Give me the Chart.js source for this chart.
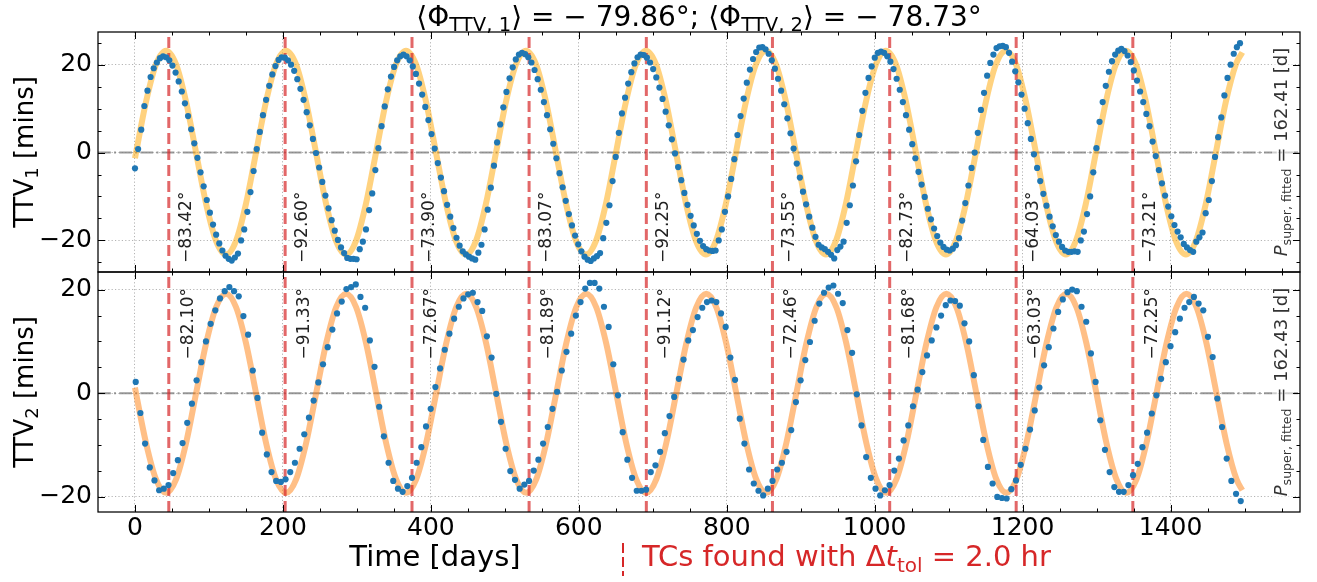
<!DOCTYPE html>
<html>
<head>
<meta charset="utf-8">
<style>
html,body{margin:0;padding:0;background:#fff;}
#wrap{position:relative;width:1317px;height:582px;overflow:hidden;background:#fff;}
#wrap canvas{position:absolute;left:0;top:0;}
</style>
<script src="https://cdn.jsdelivr.net/npm/chart.js@4.4.1/dist/chart.umd.min.js"></script>
</head>
<body>
<div id="wrap">
<canvas id="c1" width="1317" height="582"></canvas>
<canvas id="c2" width="1317" height="582"></canvas>
</div>
<script>
// ---------------- data ----------------
const X_MIN = -50, X_MAX = 1575;
const Y1_MIN = -27.2, Y1_MAX = 27.45;
const Y2_MIN = -22.9, Y2_MAX = 23.4;
const xTickValues = [0, 200, 400, 600, 800, 1000, 1200, 1400];
const yTickValues = [-20, 0, 20];

// planet 1: one transit every ~4.22 d, starting at t = 0
const transitStart1 = 0.0;
const transitSpacing1 = 4.22;
const ttv1 = [
 -3.6, 0.8, 5.2, 10.6, 14.1, 17.2, 19.2, 20.5, 21.5, 21.9,
 21.7, 21.0, 19.8, 18.2, 16.2, 13.9, 11.2, 8.3, 5.3, 2.1,
 -1.2, -4.5, -7.7, -10.8, -13.7, -16.4, -18.7, -20.7, -22.3, -23.5,
 -24.2, -24.6, -23.9, -23.0, -20.0, -17.5, -13.5, -9.0, -4.2, 0.8,
 4.7, 8.5, 12.0, 15.2, 17.8, 19.7, 21.1, 21.7, 21.6, 21.0,
 20.0, 18.6, 16.7, 14.5, 12.0, 9.2, 6.2, 3.1, -0.1, -3.4,
 -6.7, -9.8, -12.7, -15.4, -17.8, -19.9, -21.6, -22.9, -24.0, -24.2,
 -24.2, -24.3, -22.0, -20.3, -17.5, -13.1, -9.3, -4.0, 1.0, 6.0,
 10.5, 14.4, 17.3, 19.5, 21.0, 21.9, 22.3, 21.9, 21.0, 19.6,
 17.9, 15.7, 13.2, 10.4, 7.4, 4.2, 0.9, -2.4, -5.7, -8.8,
 -11.9, -14.6, -17.2, -19.4, -21.2, -22.5, -23.2, -23.7, -24.1, -24.4,
 -22.8, -21.0, -17.5, -13.0, -8.0, -3.0, 2.3, 6.4, 10.3, 13.8,
 16.9, 19.4, 21.2, 22.3, 22.7, 22.4, 21.7, 20.5, 18.8, 16.7,
 14.3, 11.5, 8.5, 5.3, 2.0, -1.3, -4.7, -7.9, -11.0, -14.0,
 -16.6, -18.9, -20.9, -22.5, -23.7, -24.4, -24.7, -24.1, -23.6, -22.9,
 -19.5, -16.0, -12.0, -6.5, -1.0, 4.5, 8.9, 12.5, 15.7, 18.3,
 20.3, 21.7, 22.3, 22.2, 21.6, 20.5, 19.0, 17.1, 14.8, 12.2,
 9.3, 6.2, 3.0, -0.2, -3.3, -6.3, -9.2, -11.9, -14.4, -16.6,
 -18.5, -20.1, -21.3, -22.0, -22.3, -22.4, -22.3, -20.0, -17.5, -13.5,
 -10.0, -6.0, -1.5, 4.0, 8.3, 12.3, 15.9, 18.9, 21.3, 22.9,
 23.9, 24.0, 23.5, 22.5, 21.0, 19.1, 16.8, 14.1, 11.0, 7.8,
 4.4, 0.9, -2.5, -5.7, -8.9, -11.8, -14.6, -17.1, -19.2, -21.0,
 -21.6, -22.0, -22.6, -23.3, -24.1, -22.2, -21.4, -20.3, -16.0, -12.0,
 -7.5, -2.0, 4.0, 9.5, 13.6, 17.0, 19.6, 21.6, 22.7, 23.0,
 22.7, 21.9, 20.7, 19.0, 16.8, 14.3, 11.5, 8.5, 5.2, 1.9,
 -1.3, -4.4, -7.3, -10.1, -12.8, -15.2, -17.3, -19.0, -20.5, -21.5,
 -22.1, -22.3, -21.9, -21.1, -19.5, -15.5, -11.5, -7.5, -3.5, 0.0,
 4.5, 9.7, 13.6, 17.5, 20.4, 22.3, 23.8, 24.2, 24.3, 24.0,
 22.7, 20.7, 18.5, 16.0, 13.2, 10.0, 6.7, 3.1, -0.4, -3.5,
 -6.5, -9.4, -12.1, -14.6, -16.8, -18.8, -20.3, -21.5, -22.3, -22.6,
 -22.6, -22.5, -22.6, -20.0, -18.0, -14.0, -10.0, -4.5, 1.0, 7.0,
 11.5, 15.2, 18.4, 20.8, 22.3, 23.2, 23.6, 23.1, 22.1, 20.6,
 18.7, 16.4, 13.9, 11.5, 8.8, 6.0, 2.5, -0.8, -4.0, -7.0,
 -9.8, -12.3, -14.5, -16.5, -18.0, -19.3, -20.8, -21.6, -22.2, -22.6,
 -20.3, -19.3, -18.2, -13.8, -10.8, -6.5, -1.0, 3.5, 8.0, 13.0,
 17.0, 20.0, 22.5, 24.0, 24.9
];

// planet 2: one transit every ~6.33 d, starting at t = 1
const transitStart2 = 1.0;
const transitSpacing2 = 6.33;
const ttv2 = [
 2.2, -3.8, -9.7, -14.3, -16.8, -18.7, -18.4, -17.7, -15.4, -12.9,
 -9.6, -5.7, -2.0, 2.5, 6.0, 10.0, 13.4, 16.0, 18.3, 19.7,
 20.5, 19.7, 18.7, 14.9, 11.3, 4.4, -0.9, -7.6, -11.8, -15.2,
 -16.9, -17.1, -16.6, -15.2, -13.4, -10.7, -7.9, -4.7, -1.4, 2.1,
 5.6, 8.9, 12.3, 15.4, 17.7, 20.1, 20.5, 21.0, 18.6, 16.5,
 10.2, 5.1, -2.6, -8.3, -13.4, -16.9, -18.4, -19.0, -17.9, -16.3,
 -13.4, -10.4, -6.4, -3.0, 1.2, 4.8, 8.4, 11.5, 14.4, 16.7,
 18.3, 19.1, 19.4, 17.6, 15.9, 11.0, 6.9, -0.1, -5.5, -10.7,
 -15.0, -16.7, -18.4, -17.6, -16.9, -14.9, -12.8, -9.7, -6.5, -3.0,
 0.3, 4.4, 8.0, 11.5, 15.0, 17.6, 20.2, 21.3, 21.3, 20.2,
 16.7, 12.8, 5.6, -0.4, -7.5, -12.8, -16.3, -18.8, -18.8, -18.6,
 -15.2, -13.9, -11.3, -7.7, -4.4, -0.7, 2.8, 6.5, 10.2, 12.2,
 14.7, 16.5, 17.6, 17.9, 17.6, 15.4, 12.8, 6.9, 2.6, -4.9,
 -9.7, -14.7, -17.4, -18.8, -19.7, -18.4, -16.9, -14.7, -13.4, -11.3,
 -7.1, -1.7, 2.5, 6.4, 9.9, 14.0, 17.3, 19.4, 20.4, 20.8,
 19.2, 17.4, 12.2, 7.8, -0.2, -6.2, -12.3, -16.3, -18.4, -19.7,
 -18.7, -17.7, -14.9, -12.6, -9.1, -6.2, -2.5, 0.7, 4.1, 7.3,
 10.2, 12.7, 15.0, 17.0, 17.9, 17.8, 16.9, 13.5, 10.0, 3.5,
 -2.5, -9.0, -14.2, -17.4, -20.0, -20.2, -20.3, -18.5, -16.8, -13.8,
 -10.7, -7.0, -3.3, 1.1, 5.4, 8.9, 12.5, 15.7, 18.1, 19.5,
 20.0, 19.7, 16.7, 13.8, 7.7, 2.2, -5.2, -10.9, -15.2, -18.1,
 -19.0, -19.0, -17.7, -15.8, -13.6, -10.4, -7.6, -3.9, -0.4, 2.8,
 6.0, 9.1, 11.8, 14.4, 16.5, 17.6, 18.6, 17.3, 16.0, 10.9,
 7.0, -1.0, -6.5, -12.6, -16.9, -19.4, -20.8
];

// fitted curves, sampled (first value at t=0, last at t=1497, the rest every fitStep days from fitStart)
const fitEnds = [0, 1497];
const fitStart1 = 1.45, fitStep1 = 13.517;
const fit1 = [
 -1.3, 0, 11.6, 20.1,
 23.2, 20.1, 11.6, 0, -11.6, -20.1, -23.2, -20.1, -11.6, 0, 11.6, 20.1,
 23.2, 20.1, 11.6, 0, -11.6, -20.1, -23.2, -20.1, -11.6, 0, 11.6, 20.1,
 23.2, 20.1, 11.6, 0, -11.6, -20.1, -23.2, -20.1, -11.6, 0, 11.6, 20.1,
 23.2, 20.1, 11.6, 0, -11.6, -20.1, -23.2, -20.1, -11.6, 0, 11.6, 20.1,
 23.2, 20.1, 11.6, 0, -11.6, -20.1, -23.2, -20.1, -11.6, 0, 11.6, 20.1,
 23.2, 20.1, 11.6, 0, -11.6, -20.1, -23.2, -20.1, -11.6, 0, 11.6, 20.1,
 23.2, 20.1, 11.6, 0, -11.6, -20.1, -23.2, -20.1, -11.6, 0, 11.6, 20.1,
 23.2, 20.1, 11.6, 0, -11.6, -20.1, -23.2, -20.1, -11.6, 0, 11.6, 20.1,
 23.2, 20.1, 11.6, 0, -11.6, -20.1, -23.2, -20.1, -11.6, 0, 11.6, 20.1,
 22.8
];
const fitStart2 = 1.425, fitStep2 = 13.525;
const fit2 = [
 1.1, 0, -9.6, -16.6,
 -19.2, -16.6, -9.6, 0, 9.6, 16.6, 19.2, 16.6, 9.6, 0, -9.6, -16.6,
 -19.2, -16.6, -9.6, 0, 9.6, 16.6, 19.2, 16.6, 9.6, 0, -9.6, -16.6,
 -19.2, -16.6, -9.6, 0, 9.6, 16.6, 19.2, 16.6, 9.6, 0, -9.6, -16.6,
 -19.2, -16.6, -9.6, 0, 9.6, 16.6, 19.2, 16.6, 9.6, 0, -9.6, -16.6,
 -19.2, -16.6, -9.6, 0, 9.6, 16.6, 19.2, 16.6, 9.6, 0, -9.6, -16.6,
 -19.2, -16.6, -9.6, 0, 9.6, 16.6, 19.2, 16.6, 9.6, 0, -9.6, -16.6,
 -19.2, -16.6, -9.6, 0, 9.6, 16.6, 19.2, 16.6, 9.6, 0, -9.6, -16.6,
 -19.2, -16.6, -9.6, 0, 9.6, 16.6, 19.2, 16.6, 9.6, 0, -9.6, -16.6,
 -19.2, -16.6, -9.6, 0, 9.6, 16.6, 19.2, 16.6, 9.6, 0, -9.6, -16.6,
 -18.7
];

// transit-coincidence times and their phase labels
const tcTimes = [45.7, 203.0, 374.5, 532.8, 691.3, 861.8, 1020.3, 1191.3, 1349.0];
const phaseLabels1 = ['−83.42°','−92.60°','−73.90°','−83.07°','−92.25°','−73.55°','−82.73°','−64.03°','−73.21°'];
const phaseLabels2 = ['−82.10°','−91.33°','−72.67°','−81.89°','−91.12°','−72.46°','−81.68°','−63.03°','−72.25°'];
const meanPhase1 = '−79.86°', meanPhase2 = '−78.73°';
const pSuper1 = '162.41', pSuper2 = '162.43';
const dtTol = '2.0';

const X_MAJOR = 200, X_MINOR = 50, Y_MAJOR = 20, Y_MINOR = 5;

// ---------------- helpers ----------------
const FONT = '"DejaVu Sans", "Liberation Sans", sans-serif';
Chart.defaults.font.family = FONT;

function toPoints(vals, start, step) {
  return vals.map((v, i) => ({ x: start + i * step, y: v }));
}
function fitPoints(vals, start, step) {
  const n = vals.length;
  return vals.map((v, i) => ({
    x: i === 0 ? fitEnds[0] : (i === n - 1 ? fitEnds[1] : start + (i - 1) * step),
    y: v
  }));
}
function fmt(v) {
  return v < 0 ? '−' + Math.abs(v) : String(v);
}
function rich(ctx, parts, x, y, align) {
  let w = 0;
  for (const p of parts) {
    ctx.font = (p.it ? 'italic ' : '') + p.s + 'px ' + FONT;
    p.w = ctx.measureText(p.t).width;
    w += p.w;
  }
  let cx = align === 'center' ? x - w / 2 : (align === 'right' ? x - w : x);
  ctx.textAlign = 'left';
  ctx.textBaseline = 'alphabetic';
  for (const p of parts) {
    ctx.font = (p.it ? 'italic ' : '') + p.s + 'px ' + FONT;
    ctx.fillText(p.t, cx, y + (p.dy || 0));
    cx += p.w;
  }
  return w;
}
function seg(ctx, x1, y1, x2, y2) {
  ctx.beginPath(); ctx.moveTo(x1, y1); ctx.lineTo(x2, y2); ctx.stroke();
}
function frameAndTicks(chart) {
  const { ctx, chartArea: a, scales: { x, y } } = chart;
  ctx.save();
  ctx.strokeStyle = '#000';
  ctx.lineWidth = 1;
  for (let v = Math.ceil(x.min / X_MINOR) * X_MINOR; v <= x.max; v += X_MINOR) {
    const px = Math.round(x.getPixelForValue(v)) + 0.5;
    if (px <= a.left + 1 || px >= a.right - 1) continue;
    const L = (v % X_MAJOR === 0) ? 7 : 3.5;
    seg(ctx, px, a.bottom, px, a.bottom - L);
    seg(ctx, px, a.top, px, a.top + L);
  }
  for (let v = Math.ceil(y.min / Y_MINOR) * Y_MINOR; v <= y.max; v += Y_MINOR) {
    const py = Math.round(y.getPixelForValue(v)) + 0.5;
    if (py <= a.top + 1 || py >= a.bottom - 1) continue;
    const L = (v % Y_MAJOR === 0) ? 7 : 3.5;
    seg(ctx, a.left, py, a.left + L, py);
    seg(ctx, a.right, py, a.right - L, py);
  }
  ctx.lineWidth = 1.25;
  ctx.strokeRect(a.left, a.top, a.right - a.left, a.bottom - a.top);
  ctx.restore();
}
function pSuperText(chart, value) {
  const { ctx, chartArea: a } = chart;
  const mid = (a.top + a.bottom) / 2;
  const parts = [
    { t: 'P', s: 18, it: true },
    { t: 'super, fitted', s: 12.6, dy: 4 },
    { t: ' = ' + value + ' [d]', s: 18 }
  ];
  ctx.save();
  ctx.translate(a.right - 13, mid);
  ctx.rotate(-Math.PI / 2);
  let w = 0;
  for (const p of parts) { ctx.font = (p.it ? 'italic ' : '') + p.s + 'px ' + FONT; w += ctx.measureText(p.t).width; }
  ctx.fillStyle = 'rgba(255,255,255,0.55)';
  ctx.fillRect(-w / 2 - 3, -15, w + 6, 22);
  ctx.fillStyle = '#333';
  rich(ctx, parts, 0, 0, 'center');
  ctx.restore();
}
function yLabel(chart, sub) {
  const { ctx, chartArea: a } = chart;
  ctx.save();
  ctx.fillStyle = '#000';
  ctx.translate(33, (a.top + a.bottom) / 2);
  ctx.rotate(-Math.PI / 2);
  rich(ctx, [{ t: 'TTV', s: 26 }, { t: sub, s: 18, dy: 5 }, { t: ' [mins]', s: 26 }], 0, 0, 'center');
  ctx.restore();
}
function phaseText(chart, labels, top) {
  const { ctx, chartArea: a, scales: { x } } = chart;
  ctx.save();
  ctx.fillStyle = '#222';
  ctx.font = '17px ' + FONT;
  ctx.textBaseline = 'alphabetic';
  tcTimes.forEach((t, i) => {
    const px = x.getPixelForValue(t);
    ctx.save();
    if (top) {
      ctx.translate(px + 22, a.bottom - 9);
      ctx.rotate(-Math.PI / 2);
      ctx.textAlign = 'left';
    } else {
      ctx.translate(px + 24, a.top + 16);
      ctx.rotate(-Math.PI / 2);
      ctx.textAlign = 'right';
    }
    ctx.fillText(labels[i], 0, 0);
    ctx.restore();
  });
  ctx.restore();
}

function panelDatasets(pts, fitPts, fitColor, ymin, ymax) {
  const ds = [];
  ds.push({
    type: 'scatter', data: pts, showLine: false,
    pointRadius: 3.1, pointHoverRadius: 3.1, pointBackgroundColor: '#1f77b4',
    pointBorderWidth: 0, pointBorderColor: '#1f77b4', order: 0
  });
  tcTimes.forEach(t => ds.push({
    type: 'line', showLine: true, data: [{ x: t, y: ymin }, { x: t, y: ymax }],
    borderColor: 'rgba(214,39,40,0.7)', borderWidth: 3, borderDash: [11, 5],
    pointRadius: 0, fill: false, order: 1
  }));
  ds.push({
    type: 'line', showLine: true, data: fitPts, borderColor: fitColor, borderWidth: 6,
    pointRadius: 0, fill: false, cubicInterpolationMode: 'monotone', order: 2
  });
  ds.push({
    type: 'line', showLine: true, data: [{ x: X_MIN, y: 0 }, { x: X_MAX, y: 0 }],
    borderColor: 'rgba(128,128,128,0.8)', borderWidth: 2, borderDash: [12.8, 3.2, 2, 3.2],
    pointRadius: 0, fill: false, order: 3
  });
  return ds;
}
const gridOpts = { color: '#b4b4b4', lineWidth: 1, drawTicks: false };
const borderOpts = { display: false, dash: [1.2, 2.2] };

function makeOptions(ymin, ymax, padding, showX, xHeight) {
  return {
    responsive: false, animation: false, events: [],
    layout: { padding: padding },
    plugins: { legend: { display: false }, tooltip: { enabled: false }, title: { display: false } },
    scales: {
      x: {
        type: 'linear', min: X_MIN, max: X_MAX,
        afterBuildTicks: s => { s.ticks = xTickValues.map(v => ({ value: v })); },
        afterFit: s => { s.height = xHeight; s.paddingLeft = 0; s.paddingRight = 0; },
        ticks: {
          display: showX, maxRotation: 0, minRotation: 0, autoSkip: false,
          padding: 1, color: '#000', font: { family: FONT, size: 25 }, callback: v => fmt(v)
        },
        grid: gridOpts, border: borderOpts
      },
      y: {
        type: 'linear', min: ymin, max: ymax,
        afterBuildTicks: s => { s.ticks = yTickValues.map(v => ({ value: v })); },
        afterFit: s => { s.width = 98; s.paddingTop = 0; s.paddingBottom = 0; },
        ticks: {
          padding: 6, color: '#000', autoSkip: false,
          font: { family: FONT, size: 25 }, callback: v => fmt(v)
        },
        grid: gridOpts, border: borderOpts
      }
    }
  };
}

// ---------------- top panel ----------------
new Chart(document.getElementById('c1'), {
  type: 'scatter',
  data: { datasets: panelDatasets(toPoints(ttv1, transitStart1, transitSpacing1),
                                  fitPoints(fit1, fitStart1, fitStep1),
                                  'rgba(255,165,0,0.5)', Y1_MIN, Y1_MAX) },
  options: makeOptions(Y1_MIN, Y1_MAX, { left: 0, right: 17, top: 32, bottom: 310 }, false, 0),
  plugins: [{
    id: 'topOverlay',
    afterDraw(chart) {
      const { ctx, chartArea: a } = chart;
      phaseText(chart, phaseLabels1, true);
      pSuperText(chart, pSuper1);
      yLabel(chart, '1');
      ctx.save();
      ctx.fillStyle = '#000';
      rich(ctx, [
        { t: '⟨Φ', s: 28 }, { t: 'TTV, 1', s: 19.6, dy: 5 },
        { t: '⟩ = − ' + meanPhase1.slice(1) + '; ⟨Φ', s: 28 }, { t: 'TTV, 2', s: 19.6, dy: 5 },
        { t: '⟩ = − ' + meanPhase2.slice(1), s: 28 }
      ], (a.left + a.right) / 2, 26, 'center');
      ctx.restore();
      frameAndTicks(chart);
    }
  }]
});

// ---------------- bottom panel ----------------
new Chart(document.getElementById('c2'), {
  type: 'scatter',
  data: { datasets: panelDatasets(toPoints(ttv2, transitStart2, transitSpacing2),
                                  fitPoints(fit2, fitStart2, fitStep2),
                                  'rgba(255,127,14,0.5)', Y2_MIN, Y2_MAX) },
  options: makeOptions(Y2_MIN, Y2_MAX, { left: 0, right: 17, top: 272, bottom: 0 }, true, 70),
  plugins: [{
    id: 'bottomOverlay',
    afterDraw(chart) {
      const { ctx } = chart;
      phaseText(chart, phaseLabels2, false);
      pSuperText(chart, pSuper2);
      yLabel(chart, '2');
      ctx.save();
      ctx.fillStyle = '#000';
      rich(ctx, [{ t: 'Time [days]', s: 29 }], 435, 566, 'center');
      // red legend marker
      ctx.strokeStyle = '#d62728';
      ctx.lineWidth = 2;
      ctx.setLineDash([10, 4]);
      seg(ctx, 623, 543, 623, 576);
      ctx.setLineDash([]);
      ctx.fillStyle = '#d62728';
      rich(ctx, [
        { t: 'TCs found with Δ', s: 29 }, { t: 't', s: 29, it: true },
        { t: 'tol', s: 20, dy: 6 }, { t: ' = ' + dtTol + ' hr', s: 29 }
      ], 642, 566, 'left');
      ctx.restore();
      frameAndTicks(chart);
    }
  }]
});
</script>
</body>
</html>
